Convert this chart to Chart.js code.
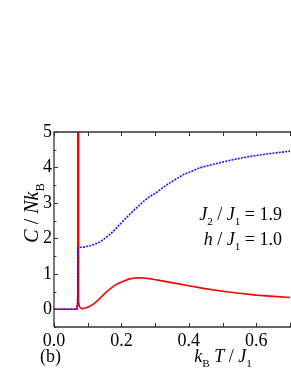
<!DOCTYPE html>
<html><head><meta charset="utf-8">
<script src="https://cdn.jsdelivr.net/npm/chart.js@4/dist/chart.umd.min.js"></script>
<style>html,body{margin:0;padding:0;background:#fff;overflow:hidden}canvas{display:block}</style>
</head><body>
<canvas id="c" width="291" height="376"></canvas>
<script>
// ---- data ----
const redX = [0, 0.064, 0.067, 0.069, 0.0702, 0.0708, 0.0716, 0.0724, 0.0735, 0.076, 0.080, 0.084, 0.095, 0.105, 0.119, 0.133, 0.148, 0.163, 0.178, 0.193, 0.208, 0.222, 0.237, 0.252, 0.267, 0.282, 0.297, 0.325, 0.353, 0.40, 0.443, 0.50, 0.542, 0.60, 0.641, 0.70];
const redY = [0, 0, 0.03, 0.12, 0.6, 6, 6, 1.2, 0.2, 0.06, 0.03, 0.02, 0.04, 0.08, 0.16, 0.28, 0.42, 0.55, 0.66, 0.74, 0.80, 0.85, 0.88, 0.89, 0.88, 0.865, 0.84, 0.795, 0.745, 0.665, 0.59, 0.51, 0.46, 0.40, 0.37, 0.33];
const blueX = [0, 0.069, 0.0705, 0.0712, 0.075, 0.091, 0.106, 0.121, 0.136, 0.151, 0.166, 0.180, 0.195, 0.210, 0.225, 0.240, 0.255, 0.269, 0.284, 0.299, 0.334, 0.384, 0.432, 0.482, 0.531, 0.581, 0.631, 0.70];
const blueY = [0, 0, 0.4, 1.73, 1.74, 1.76, 1.79, 1.83, 1.90, 2.00, 2.11, 2.24, 2.39, 2.54, 2.68, 2.82, 2.95, 3.07, 3.18, 3.26, 3.51, 3.80, 3.99, 4.11, 4.22, 4.31, 4.38, 4.46];
const xTickLabels = [0, 0.2, 0.4, 0.6];
const yTickLabels = [0, 1, 2, 3, 4, 5];
const xMarks = [0, 0.1, 0.2, 0.3, 0.4, 0.5, 0.6, 0.7];
const yMarks = [-0.5, 0, 0.5, 1, 1.5, 2, 2.5, 3, 3.5, 4, 4.5, 5];

const FONT = '"Liberation Serif", "Times New Roman", serif';
const AXIS = '#333333';

function richText(ctx, segs, x, y, align, size) {
  const subSize = size * 0.62;
  const fontOf = (s) => (s.i ? 'italic ' : '') + (s.s ? subSize : size) + 'px ' + FONT;
  let total = 0;
  const widths = segs.map(s => { ctx.font = fontOf(s); const w = ctx.measureText(s.t).width; total += w; return w; });
  let cx = align === 'right' ? x - total : align === 'center' ? x - total / 2 : x;
  ctx.textAlign = 'left';
  ctx.textBaseline = 'alphabetic';
  segs.forEach((s, k) => {
    ctx.font = fontOf(s);
    ctx.fillText(s.t, cx, y + (s.s ? size * 0.28 : 0));
    cx += widths[k];
  });
}

const framePlugin = {
  id: 'frame',
  afterDatasetsDraw(chart) {
    const ctx = chart.ctx, a = chart.chartArea;
    const xs = chart.scales.x, ys = chart.scales.y;
    ctx.save();
    ctx.strokeStyle = AXIS;
    ctx.lineWidth = 1.3;
    ctx.beginPath();
    ctx.moveTo(a.left, a.bottom); ctx.lineTo(a.left, a.top); ctx.lineTo(a.right + 2, a.top);
    ctx.moveTo(a.left, a.bottom); ctx.lineTo(a.right + 2, a.bottom);
    ctx.stroke();
    ctx.lineWidth = 1;
    ctx.beginPath();
    xMarks.forEach(v => {
      const px = Math.round(xs.getPixelForValue(v)) + 0.5;
      ctx.moveTo(px, a.bottom); ctx.lineTo(px, a.bottom - 4);
      ctx.moveTo(px, a.top); ctx.lineTo(px, a.top + 4);
    });
    yMarks.forEach(v => {
      const py = Math.round(ys.getPixelForValue(v)) + 0.5;
      const len = Number.isInteger(v) ? 4 : 2.5;
      ctx.moveTo(a.left, py); ctx.lineTo(a.left + len, py);
    });
    ctx.stroke();
    ctx.restore();
  },
  afterDraw(chart) {
    const ctx = chart.ctx;
    ctx.save();
    ctx.fillStyle = '#000';
    // y axis title
    ctx.save();
    ctx.translate(38, 213);
    ctx.rotate(-Math.PI / 2);
    richText(ctx, [{t: 'C', i: 1}, {t: ' / '}, {t: 'Nk', i: 1}, {t: 'B', s: 1}], 0, 0, 'center', 20);
    ctx.restore();
    // x axis title
    richText(ctx, [{t: 'k', i: 1}, {t: 'B', s: 1}, {t: ' '}, {t: 'T', i: 1}, {t: ' / '}, {t: 'J', i: 1}, {t: '1', s: 1}], 223, 362, 'center', 18);
    richText(ctx, [{t: '(b)'}], 40, 362, 'left', 18);
    // annotations
    richText(ctx, [{t: 'J', i: 1}, {t: '2', s: 1}, {t: ' / '}, {t: 'J', i: 1}, {t: '1', s: 1}, {t: ' = 1.9'}], 282, 220, 'right', 18);
    richText(ctx, [{t: 'h', i: 1}, {t: ' / '}, {t: 'J', i: 1}, {t: '1', s: 1}, {t: ' = 1.0'}], 282, 245, 'right', 18);
    ctx.restore();
  }
};

const toPts = (xs, ys) => xs.map((x, i) => ({x, y: ys[i]}));

new Chart(document.getElementById('c'), {
  type: 'line',
  data: {
    datasets: [
      {data: toPts(blueX, blueY), borderColor: '#1515ff', borderWidth: 1.6, borderDash: [2, 1.2], pointRadius: 0, fill: false, tension: 0, order: 0},
      {data: toPts(redX, redY), borderColor: '#ff0000', borderWidth: 1.6, pointRadius: 0, fill: false, tension: 0, order: 1}
    ]
  },
  options: {
    responsive: false,
    animation: false,
    devicePixelRatio: 1,
    layout: {padding: {top: 132, right: 1, left: 0, bottom: 0}},
    plugins: {legend: {display: false}, tooltip: {enabled: false}, title: {display: false}},
    scales: {
      x: {
        type: 'linear', min: 0, max: 0.7,
        grid: {display: false, drawTicks: false}, border: {display: false},
        afterBuildTicks: s => { s.ticks = xTickLabels.map(v => ({value: v})); },
        afterFit: s => { s.height = 49; },
        ticks: {padding: 3, color: '#000', font: {family: FONT, size: 18}, maxRotation: 0, callback: v => Number(v).toFixed(1)}
      },
      y: {
        type: 'linear', min: -0.5, max: 5,
        grid: {display: false, drawTicks: false}, border: {display: false},
        afterBuildTicks: s => { s.ticks = yTickLabels.map(v => ({value: v})); },
        afterFit: s => { s.width = 54; },
        ticks: {padding: 2, color: '#000', font: {family: FONT, size: 18}, callback: v => String(v)}
      }
    }
  },
  plugins: [framePlugin]
});
</script>
</body></html>
